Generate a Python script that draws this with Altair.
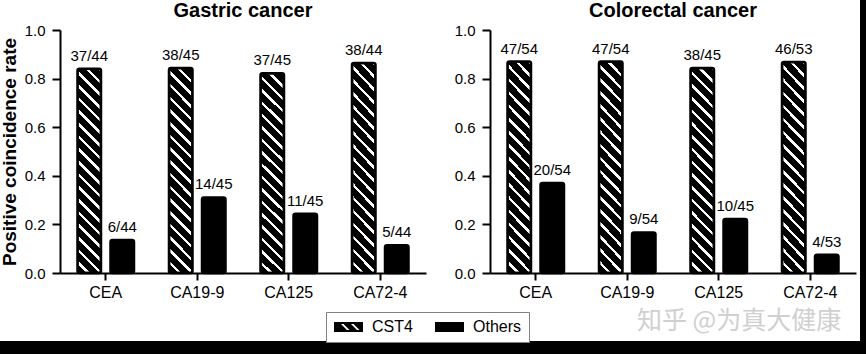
import altair as alt
import pandas as pd

markers = ["CEA", "CA19-9", "CA125", "CA72-4"]
groups = ["CST4", "Others"]

gastric_cst4 = [0.841, 0.844, 0.822, 0.864]
gastric_others = [0.136, 0.311, 0.244, 0.114]
gastric_cst4_lbl = ["37/44", "38/45", "37/45", "38/44"]
gastric_others_lbl = ["6/44", "14/45", "11/45", "5/44"]

colorectal_cst4 = [0.870, 0.870, 0.844, 0.868]
colorectal_others = [0.370, 0.167, 0.222, 0.075]
colorectal_cst4_lbl = ["47/54", "47/54", "38/45", "46/53"]
colorectal_others_lbl = ["20/54", "9/54", "10/45", "4/53"]

titles = ["Gastric cancer", "Colorectal cancer"]
y_title = "Positive coincidence rate"
watermark = "知乎 @为真大健康"


def make_df(cst4, others, cst4_lbl, others_lbl):
    rows = []
    for m, v, l in zip(markers, cst4, cst4_lbl):
        rows.append({"marker": m, "group": "CST4", "value": v, "label": l})
    for m, v, l in zip(markers, others, others_lbl):
        rows.append({"marker": m, "group": "Others", "value": v, "label": l})
    return pd.DataFrame(rows)


df_g = make_df(gastric_cst4, gastric_others, gastric_cst4_lbl, gastric_others_lbl)
df_c = make_df(colorectal_cst4, colorectal_others, colorectal_cst4_lbl, colorectal_others_lbl)

FONT = "Liberation Sans"
W, H = 366, 243

# diagonal hatch as a hard-stop linear gradient
r = 8.64
s = (1 + r) / (1 + r * r)
N = 18
fw = 0.28
stops = []
for k in range(N):
    a = k / N
    b = (k + 1 - fw) / N
    c = (k + 1) / N
    stops += [alt.GradientStop(color="black", offset=round(a, 4)),
              alt.GradientStop(color="black", offset=round(b, 4)),
              alt.GradientStop(color="white", offset=round(b, 4)),
              alt.GradientStop(color="white", offset=round(c, 4))]
hatch = alt.LinearGradient(gradient="linear", stops=stops,
                           x1=0, y1=1, x2=round(s, 4), y2=round(1 - s * r, 4))

# legend swatches (custom symbol paths)
outer = "M-0.875,-0.625H2.75V0.625H-0.875Z"
holes = ""
for dx in (0.0, 1.25):
    holes += ("M{a},-0.375L{d},0.375L{c},0.375L{b},-0.375Z"
              .format(a=round(0 + dx, 4), b=round(0.3125 + dx, 4),
                      c=round(1.0625 + dx, 4), d=round(0.75 + dx, 4)))
path_cst4 = outer + holes
path_others = outer


def panel(df, title, first):
    x = alt.X("marker:N", sort=markers,
              scale=alt.Scale(paddingInner=0, paddingOuter=0),
              axis=alt.Axis(title=None, labelAngle=0, labelFontSize=16,
                            labelPadding=4, tickSize=7, zindex=1))
    xo = alt.XOffset("group:N", sort=groups,
                     scale=alt.Scale(paddingInner=0.288, paddingOuter=0.53))
    yaxis = alt.Axis(values=[0, 0.2, 0.4, 0.6, 0.8, 1.0], format=".1f",
                     title=y_title if first else None, labelFontSize=15,
                     labelPadding=7, tickSize=8, titleFontSize=19,
                     titleFontWeight="bold", titlePadding=5, zindex=1)
    y = alt.Y("value:Q", scale=alt.Scale(domain=[0, 1]), axis=yaxis)

    base = alt.Chart(df)
    layers = []
    if first:
        layers.append(alt.Chart(alt.Data(values=[{}])).mark_rect(color="white").encode(
            x=alt.value(-60), x2=alt.value(800), y=alt.value(-30), y2=alt.value(311)))
    pts = base.mark_point(filled=True, size=16, color="black", opacity=1).encode(
        x=x, xOffset=xo, y=alt.YDatum(0.04),
        shape=alt.Shape("group:N",
                        scale=alt.Scale(domain=groups, range=[path_cst4, path_others]),
                        legend=alt.Legend(title=None, orient="none", direction="horizontal",
                                          legendX=266, legendY=282, padding=7,
                                          strokeColor="#808080", fillColor="white",
                                          labelFontSize=16, labelColor="black",
                                          symbolSize=256, symbolStrokeWidth=0,
                                          symbolFillColor="black", symbolOpacity=1,
                                          labelOffset=23, columnPadding=21, zindex=2)))
    bars1 = base.transform_filter(alt.datum.group == "CST4").mark_bar(
        fill=hatch, stroke="black", strokeWidth=2.5, cornerRadius=2).encode(
        x=x, xOffset=xo, y=y)
    bars2 = base.transform_filter(alt.datum.group == "Others").mark_bar(
        fill="black", stroke="black", strokeWidth=2.5, cornerRadius=2).encode(
        x=x, xOffset=xo, y=y)
    txt = base.mark_text(dy=-8, baseline="alphabetic", fontSize=15, color="black").encode(
        x=x, xOffset=xo, y=y, text="label:N")
    layers += [pts, bars1, bars2, txt]
    if not first:
        layers.append(alt.Chart(alt.Data(values=[{"t": watermark}])).mark_text(
            font="Noto Sans CJK SC", fontSize=25, color="#d0d0d0", align="center",
            baseline="middle").encode(x=alt.value(249), y=alt.value(291), text="t:N"))
    return alt.layer(*layers).properties(
        width=W, height=H,
        title=alt.Title(title, fontSize=20, fontWeight="bold", baseline="alphabetic",
                        frame="group", offset=-37 if first else -14,
                        color="black", zindex=1))


left = panel(df_g, titles[0], True)
right = panel(df_c, titles[1], False)

chart = alt.hconcat(left, right, spacing=64, bounds="flush").resolve_scale(
    shape="shared").resolve_legend(shape="shared").properties(
    background="black",
    padding={"left": 0, "top": 0, "right": 6, "bottom": 13},
).configure(font=FONT).configure_view(stroke=None).configure_axis(
    domainColor="black", domainWidth=2, tickColor="black", tickWidth=2,
    labelColor="black", titleColor="black", grid=False, labelFont=FONT,
    titleFont=FONT
).configure_title(font=FONT).configure_legend(labelFont=FONT)

chart.save("out.html", embed_options={"renderer": "svg", "actions": False})
